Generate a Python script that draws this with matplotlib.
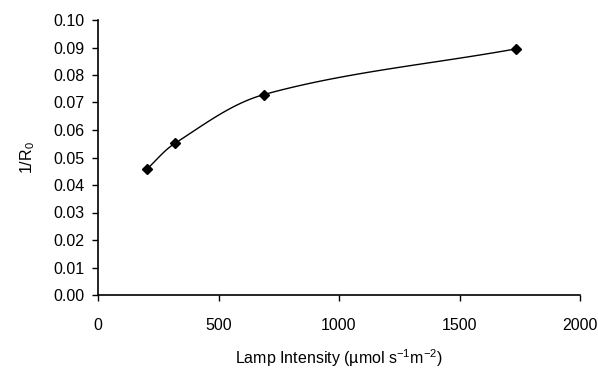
import numpy as np
import matplotlib
matplotlib.use('Agg')
import matplotlib.pyplot as plt

# Values
lamp_intensity = [202, 320, 689, 1734]
inv_r0 = [0.0457, 0.0552, 0.0729, 0.0895]

x_ticks = [0, 500, 1000, 1500, 2000]
y_ticks = [0.00, 0.01, 0.02, 0.03, 0.04, 0.05, 0.06, 0.07, 0.08, 0.09, 0.10]

AX_W, AX_H = 482.0, 275.0  # axes size in px, used to smooth in screen space


# Excel-like smoothed line: cubic Bezier segments, handles along the
# neighbour chord, scaled to the segment length (no overshoot)
def smooth_line(xs, ys, n=40):
    p = np.column_stack([np.array(xs) / 2000.0 * AX_W,
                         np.array(ys) / 0.10 * AX_H])
    out = [p[0]]
    for i in range(len(p) - 1):
        p0 = p[i - 1] if i > 0 else p[i]
        p1 = p[i]
        p2 = p[i + 1]
        p3 = p[i + 2] if i + 2 < len(p) else p[i + 1]
        seg_len = np.linalg.norm(p2 - p1)
        d1 = (p2 - p0) / np.linalg.norm(p2 - p0)
        d2 = (p3 - p1) / np.linalg.norm(p3 - p1)
        c1 = p1 + d1 * seg_len / 3.0
        c2 = p2 - d2 * seg_len / 3.0
        t = np.linspace(0, 1, n)[1:, None]
        seg = ((1 - t) ** 3 * p1 + 3 * (1 - t) ** 2 * t * c1
               + 3 * (1 - t) * t ** 2 * c2 + t ** 3 * p2)
        out.extend(seg)
    out = np.array(out)
    return out[:, 0] / AX_W * 2000.0, out[:, 1] / AX_H * 0.10


plt.rcParams['font.family'] = ['Liberation Sans', 'DejaVu Sans']

fig = plt.figure(figsize=(5.98, 3.72), dpi=100)
ax = fig.add_axes([98 / 598, 1 - 295 / 372, AX_W / 598, AX_H / 372])

sx, sy = smooth_line(lamp_intensity, inv_r0)
ax.plot(sx, sy, color='black', lw=1.0)
ax.plot(lamp_intensity, inv_r0, linestyle='none', marker='D', ms=5,
        color='black')

ax.set_xlim(0, 2000)
ax.set_ylim(0, 0.10)
ax.set_xticks(x_ticks)
ax.set_yticks(y_ticks)
ax.set_yticklabels(['%.2f' % v for v in y_ticks])
ax.spines['top'].set_visible(False)
ax.spines['right'].set_visible(False)
ax.spines['left'].set_linewidth(1.2)
ax.spines['bottom'].set_linewidth(1.2)
ax.tick_params(direction='out', length=4.5, width=1.0, labelsize=11.5,
               colors='black', pad=5)
ax.tick_params(axis='x', pad=12)

ax.set_xlabel('Lamp Intensity (\u00b5mol s$\\mathregular{^{-1}}$m$\\mathregular{^{-2}}$)',
              fontsize=11.5, labelpad=10)
ax.set_ylabel('1/R$\\mathregular{_0}$', fontsize=11.5, labelpad=12)

fig.savefig('out.png', dpi=100)
